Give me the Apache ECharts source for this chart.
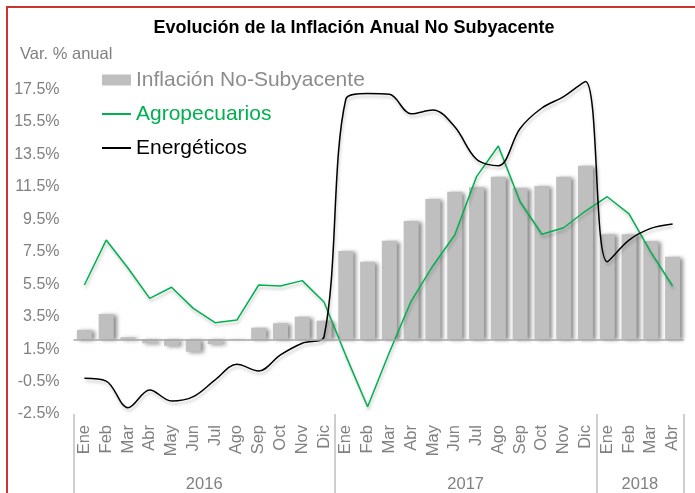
<!DOCTYPE html>
<html><head><meta charset="utf-8">
<script src="https://cdn.jsdelivr.net/npm/echarts@6/dist/echarts.min.js"></script>
<style>html,body{margin:0;padding:0;background:#fff}#c{width:695px;height:493px}</style>
</head><body><div id="c"></div>
<script>
// ---- data ----
const months = ['Ene','Feb','Mar','Abr','May','Jun','Jul','Ago','Sep','Oct','Nov','Dic',
                'Ene','Feb','Mar','Abr','May','Jun','Jul','Ago','Sep','Oct','Nov','Dic',
                'Ene','Feb','Mar','Abr'];
const yearLabels = {6:'2016', 18:'2017', 26:'2018'};
const yearBoundaries = [0, 12, 24];
const nonSub = [2.68,3.66,2.23,1.86,1.71,1.34,1.81,2.13,2.82,3.09,3.50,3.25,
                7.55,6.89,8.18,9.40,10.75,11.20,11.47,12.13,11.45,11.55,12.13,12.80,
                8.58,8.58,8.16,7.19];
const agro = [5.45,8.22,6.50,4.63,5.31,4.01,3.13,3.29,5.45,5.39,5.72,4.40,
              1.10,-2.05,1.30,4.46,6.64,8.53,12.13,14.02,10.58,8.58,8.98,10.01,
              10.89,9.83,7.48,5.39];
const energy = [-0.30,-0.47,-2.11,-1.02,-1.70,-1.43,-0.40,0.56,0.15,1.14,1.86,2.26,
                16.90,17.25,17.20,16.00,16.24,15.20,13.20,12.80,15.10,16.36,17.06,18.00,
                6.89,8.22,8.94,9.21];
const BASE = 2.1; // level where the bars start (category axis crossing)

const FONT = "'Liberation Sans Narrow','Arial Narrow','Liberation Sans',Arial,sans-serif";
const GRAY = '#808080';

const chart = echarts.init(document.getElementById('c'), null, {renderer: 'canvas'});
const baseArr = months.map(() => BASE);
const delta = nonSub.map(v => +(v - BASE).toFixed(3));
const lineShadow = {shadowColor: 'rgba(0,0,0,0.22)', shadowBlur: 3, shadowOffsetX: 1, shadowOffsetY: 3};

chart.setOption({
  animation: false,
  backgroundColor: '#fff',
  grid: {left: 73.5, right: 11.5, top: 89.5, bottom: 79},
  graphic: [
    {type: 'rect', silent: true, shape: {x: 7, y: 7, width: 740, height: 540},
     style: {fill: 'none', stroke: '#cc3333', lineWidth: 2}},
    {type: 'text', silent: true, x: 354, y: 28,
     style: {text: 'Evolución de la Inflación Anual No Subyacente', fill: '#000',
             font: 'bold 18px ' + FONT, align: 'center', verticalAlign: 'middle'}},
    {type: 'text', silent: true, x: 20, y: 54,
     style: {text: 'Var. % anual', fill: GRAY, font: '16.5px ' + FONT,
             align: 'left', verticalAlign: 'middle'}}
  ],
  legend: {
    orient: 'vertical', left: 101, top: 69.5, padding: 0, itemGap: 13, itemWidth: 29, itemHeight: 11,
    textStyle: {fontSize: 21, fontFamily: FONT},
    data: [
      {name: 'Inflación No-Subyacente', icon: 'rect', textStyle: {color: '#8c8c8c'}},
      {name: 'Agropecuarios', itemStyle: {opacity: 0}, textStyle: {color: '#00b050'}},
      {name: 'Energéticos', itemStyle: {opacity: 0}, textStyle: {color: '#000'}}
    ]
  },
  xAxis: [
    {type: 'category', data: months, boundaryGap: true, position: 'bottom',
     axisLine: {show: false, onZero: false},
     axisTick: {show: true, alignWithLabel: false, length: 80,
                interval: (i) => yearBoundaries.includes(i),
                lineStyle: {color: '#bfbfbf', width: 1.5}},
     axisLabel: {interval: 0, rotate: 90, margin: 11, color: GRAY, fontSize: 16.5, fontFamily: FONT}},
    {type: 'value', min: 0, max: 28, interval: 2, position: 'bottom',
     axisLine: {show: false, onZero: false}, axisTick: {show: false}, splitLine: {show: false},
     axisLabel: {margin: 62, color: GRAY, fontSize: 16.5, fontFamily: FONT,
                 formatter: (v) => yearLabels[v] || ''}}
  ],
  yAxis: {
    type: 'value', min: -2.5, max: 17.5, interval: 0.5,
    axisLine: {show: false}, axisTick: {show: false}, splitLine: {show: false},
    axisLabel: {color: GRAY, fontSize: 16, fontFamily: FONT, margin: 14,
      formatter: (v) => { const k = Math.round((v + 2.5) * 2); return (k % 4 === 0) ? v.toFixed(1) + '%' : ''; }}
  },
  series: [
    {name: '_base', type: 'bar', stack: 'ns', stackStrategy: 'all', data: baseArr,
     barWidth: 15, silent: true, itemStyle: {color: 'rgba(0,0,0,0)'}},
    {name: 'Inflación No-Subyacente', type: 'bar', stack: 'ns', stackStrategy: 'all', data: delta,
     barWidth: 15,
     itemStyle: {color: '#bfbfbf', shadowColor: 'rgba(0,0,0,0.45)', shadowBlur: 4, shadowOffsetX: 3, shadowOffsetY: 1},
     markLine: {silent: true, symbol: 'none', label: {show: false},
                lineStyle: {color: '#a6a6a6', width: 1.5, type: 'solid'},
                data: [{yAxis: BASE}]}},
    {name: 'Agropecuarios', type: 'line', data: agro, symbol: 'none', clip: false, z: 3,
     itemStyle: {color: '#00b050'},
     lineStyle: Object.assign({color: '#00b050', width: 1.5}, lineShadow)},
    {name: 'Energéticos', type: 'line', data: energy, symbol: 'none', smooth: 0.35, clip: false, z: 4,
     itemStyle: {color: '#000'},
     lineStyle: Object.assign({color: '#000', width: 1.5}, lineShadow)}
  ]
});
</script></body></html>
